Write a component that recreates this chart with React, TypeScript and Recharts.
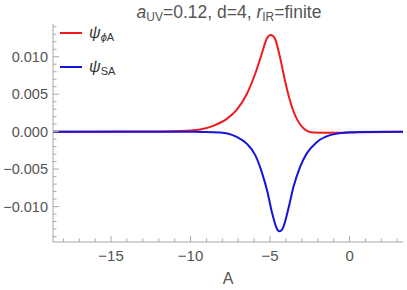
import React from "react";
import { LineChart, Line, XAxis, YAxis } from "recharts";

const redA = [-18.65, -14, -12, -10.66, -9.4, -8.57, -7.72, -7.1, -6.47, -5.94, -5.52, -5.21, -5.08, -4.96, -4.83, -4.69, -4.37, -4.06, -3.74, -3.32, -2.9, -2.28, -1.23, 0.66, 3.36];
const redPsi = [0, 0.00001, 0.00003, 0.00008, 0.0003, 0.00078, 0.0017, 0.0029, 0.005, 0.0077, 0.0104, 0.0124, 0.0128, 0.0129, 0.0128, 0.0124, 0.0099, 0.0068, 0.0041, 0.0017, 0.00047, -0.0001, -0.00015, -0.00007, -0.00002];

const blueA = [-18.65, -10, -8.14, -7.1, -6.47, -5.94, -5.52, -5.17, -4.89, -4.62, -4.5, -4.41, -4.3, -4.16, -3.85, -3.53, -3.11, -2.69, -2.06, -1.23, -0.18, 0.66, 3.36];
const bluePsi = [0, -0.00002, -0.0001, -0.0007, -0.0016, -0.0031, -0.0054, -0.008, -0.0107, -0.0127, -0.0132, -0.0133, -0.0132, -0.0127, -0.0103, -0.0074, -0.0047, -0.0029, -0.0014, -0.00047, -0.0001, -0.00003, 0];

const xTicks = [-18, -17, -16, -15, -14, -13, -12, -11, -10, -9, -8, -7, -6, -5, -4, -3, -2, -1, 0, 1, 2, 3];
const xMajorLabels: Record<string, string> = { "-15": "\u221215", "-10": "\u221210", "-5": "\u22125", "0": "0" };
const yTicks = [-0.014, -0.013, -0.012, -0.011, -0.01, -0.009, -0.008, -0.007, -0.006, -0.005, -0.004, -0.003, -0.002, -0.001, 0, 0.001, 0.002, 0.003, 0.004, 0.005, 0.006, 0.007, 0.008, 0.009, 0.01, 0.011, 0.012, 0.013, 0.014];
const yMajorLabels: Record<string, string> = { "-10": "\u22120.010", "-5": "\u22120.005", "0": "0.000", "5": "0.005", "10": "0.010" };

const redData = redA.map((a, i) => ({ a, v: redPsi[i] }));
const blueData = blueA.map((a, i) => ({ a, v: bluePsi[i] }));

const W = 407;
const H = 290;
const PL = 53;
const PR = 403;
const PT = 24;
const PB = 242;
const FRAME = "#a8a8a8";
const TXT = "#555555";
const FONT = "'Liberation Sans', Arial, sans-serif";

const BottomTick = (props: any) => {
  const { x, payload } = props;
  const v = payload.value;
  const major = Math.round(v) % 5 === 0;
  const len = major ? 6 : 3.5;
  const label = xMajorLabels[String(Math.round(v))];
  return (
    <g>
      <line x1={x} x2={x} y1={PB} y2={PB - len} stroke={FRAME} strokeWidth={1} />
      {major && label !== undefined ? (
        <text x={x} y={PB + 19} textAnchor="middle" fill={TXT} fontSize={15} fontFamily={FONT}>
          {label}
        </text>
      ) : null}
    </g>
  );
};

const TopTick = (props: any) => {
  const { x, payload } = props;
  const major = Math.round(payload.value) % 5 === 0;
  const len = major ? 6 : 3.5;
  return <line x1={x} x2={x} y1={PT} y2={PT + len} stroke={FRAME} strokeWidth={1} />;
};

const LeftTick = (props: any) => {
  const { y, payload } = props;
  const k = Math.round(payload.value * 1000);
  const major = k % 5 === 0;
  const len = major ? 6 : 3.5;
  const label = yMajorLabels[String(k)];
  return (
    <g>
      <line x1={PL} x2={PL + len} y1={y} y2={y} stroke={FRAME} strokeWidth={1} />
      {major && label !== undefined ? (
        <text x={PL - 5} y={y + 5} textAnchor="end" fill={TXT} fontSize={14.5} fontFamily={FONT}>
          {label}
        </text>
      ) : null}
    </g>
  );
};

const RightTick = (props: any) => {
  const { y, payload } = props;
  const k = Math.round(payload.value * 1000);
  const major = k % 5 === 0;
  const len = major ? 6 : 3.5;
  return <line x1={PR} x2={PR - len} y1={y} y2={y} stroke={FRAME} strokeWidth={1} />;
};

export default function App() {
  return (
    <div style={{ position: "absolute", left: 0, top: 0, width: W, height: H, background: "#fff" }}>
      <LineChart width={W} height={H} margin={{ top: PT, right: W - PR, bottom: 18, left: 0 }}>
        <XAxis
          xAxisId="b"
          dataKey="a"
          type="number"
          domain={[-18.65, 3.36]}
          allowDataOverflow
          ticks={xTicks}
          interval={0}
          height={H - PB - 18}
          tickLine={false}
          axisLine={{ stroke: FRAME }}
          tick={<BottomTick />}
        />
        <XAxis
          xAxisId="t"
          orientation="top"
          dataKey="a"
          type="number"
          domain={[-18.65, 3.36]}
          allowDataOverflow
          ticks={xTicks}
          interval={0}
          height={0}
          tickLine={false}
          axisLine={{ stroke: FRAME }}
          tick={<TopTick />}
        />
        <YAxis
          yAxisId="l"
          type="number"
          domain={[-0.01473, 0.01437]}
          allowDataOverflow
          ticks={yTicks}
          interval={0}
          width={PL}
          tickLine={false}
          axisLine={{ stroke: FRAME }}
          tick={<LeftTick />}
        />
        <YAxis
          yAxisId="r"
          orientation="right"
          type="number"
          domain={[-0.01473, 0.01437]}
          allowDataOverflow
          ticks={yTicks}
          interval={0}
          width={0}
          tickLine={false}
          axisLine={{ stroke: FRAME }}
          tick={<RightTick />}
        />
        <Line
          xAxisId="b"
          yAxisId="l"
          data={redData}
          dataKey="v"
          type="monotone"
          stroke="#ee1c1c"
          strokeWidth={2}
          dot={false}
          isAnimationActive={false}
        />
        <Line
          xAxisId="b"
          yAxisId="l"
          data={blueData}
          dataKey="v"
          type="monotone"
          stroke="#1414dc"
          strokeWidth={2}
          dot={false}
          isAnimationActive={false}
        />
      </LineChart>
      <svg width={W} height={H} style={{ position: "absolute", left: 0, top: 0, pointerEvents: "none" }}>
        <text x={229} y={18} textAnchor="middle" fill={TXT} fontSize={17.5} fontFamily={FONT}>
          <tspan fontStyle="italic">a</tspan>
          <tspan fontSize={12} dy={3}>UV</tspan>
          <tspan dy={-3}>=0.12, d=4, </tspan>
          <tspan fontStyle="italic">r</tspan>
          <tspan fontSize={12} dy={3}>IR</tspan>
          <tspan dy={-3}>=finite</tspan>
        </text>
        <line x1={60} x2={82} y1={33} y2={33} stroke="#ee1c1c" strokeWidth={2} />
        <text x={89} y={38} fill="#333" fontSize={16} fontFamily={FONT}>
          <tspan fontStyle="italic">ψ</tspan>
          <tspan fontSize={11} dy={3} fontStyle="italic">ϕ</tspan>
          <tspan fontSize={11}>A</tspan>
        </text>
        <line x1={60} x2={82} y1={67} y2={67} stroke="#1414dc" strokeWidth={2} />
        <text x={89} y={72} fill="#333" fontSize={16} fontFamily={FONT}>
          <tspan fontStyle="italic">ψ</tspan>
          <tspan fontSize={11} dy={3}>SA</tspan>
        </text>
        <text x={228} y={284} textAnchor="middle" fill={TXT} fontSize={16} fontFamily={FONT}>
          A
        </text>
      </svg>
    </div>
  );
}
